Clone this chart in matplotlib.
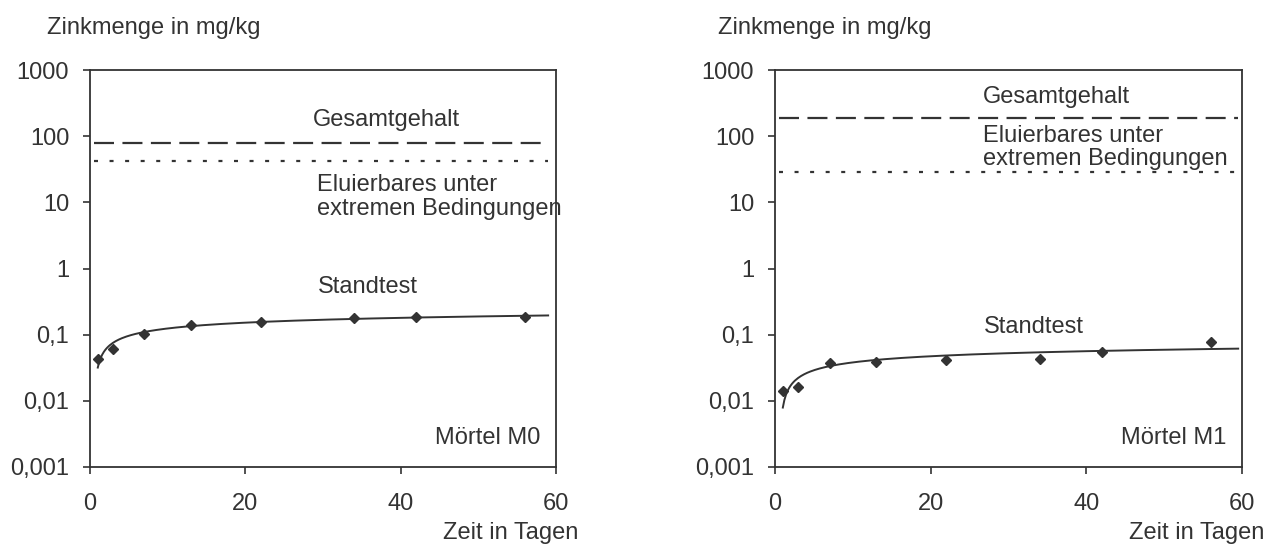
import matplotlib.pyplot as plt
import matplotlib.ticker as mticker
import numpy as np

plt.rcParams['font.family'] = ['Liberation Sans', 'DejaVu Sans']
plt.rcParams['font.size'] = 17

# Zeit in Tagen (Messzeitpunkte)
tage = [1, 3, 7, 13, 22, 34, 42, 56]

# Standtest-Messwerte in mg/kg
m0_werte = [0.043, 0.060, 0.103, 0.141, 0.158, 0.181, 0.183, 0.187]
m1_werte = [0.0143, 0.0164, 0.037, 0.039, 0.0416, 0.0436, 0.0556, 0.078]

# Gesamtgehalt und Eluierbares unter extremen Bedingungen
m0_gesamt = 80
m0_eluierbar = 42
m1_gesamt = 187
m1_eluierbar = 29

y_ticks = [0.001, 0.01, 0.1, 1, 10, 100, 1000]
y_labels = ['0,001', '0,01', '0,1', '1', '10', '100', '1000']
x_ticks = [0, 20, 40, 60]

farbe = '#333333'

fig = plt.figure(figsize=(12.66, 5.46), dpi=100)
ax1 = fig.add_axes([0.0711, 0.1447, 0.368, 0.727])
ax2 = fig.add_axes([0.6122, 0.1447, 0.3689, 0.727])


def panel(ax, werte, gesamt, eluierbar, name, x_end, y_lab_x):
    ax.set_yscale('log')
    ax.set_xlim(0, 60)
    ax.set_ylim(0.001, 1000)

    # logarithmische Trendlinie wie in Excel
    a, b = np.polyfit(np.log(tage), werte, 1)
    xs = np.linspace(1, x_end, 300)
    ax.plot(xs, a * np.log(xs) + b, color=farbe, lw=1.4)
    ax.plot(tage, werte, 'D', color=farbe, markersize=5.5)

    ax.hlines(gesamt, 0.5, x_end, colors=farbe, lw=1.6,
              linestyles=(0, (9, 3.8)))
    ax.hlines(eluierbar, 0.5, x_end, colors=farbe, lw=1.6,
              linestyles=(0, (1.8, 5.2)))

    ax.set_yticks(y_ticks)
    ax.set_yticklabels(y_labels)
    ax.yaxis.set_minor_locator(mticker.NullLocator())
    ax.set_xticks(x_ticks)
    ax.tick_params(direction='out', length=5, width=1.2, colors=farbe,
                   labelcolor=farbe, pad=10)
    ax.tick_params(axis='x', pad=14)
    for s in ax.spines.values():
        s.set_color(farbe)
        s.set_linewidth(1.3)
    ax.text(y_lab_x, 1.106, 'Zinkmenge in mg/kg', transform=ax.transAxes,
            color=farbe, ha='left', va='center')
    ax.text(1.048, -0.166, 'Zeit in Tagen', transform=ax.transAxes,
            color=farbe, ha='right', va='center')
    ax.text(0.966, 0.072, name, transform=ax.transAxes,
            color=farbe, ha='right', va='center')


panel(ax1, m0_werte, m0_gesamt, m0_eluierbar, 'Mörtel M0', 59, -0.092)
panel(ax2, m1_werte, m1_gesamt, m1_eluierbar, 'Mörtel M1', 59.5, -0.122)

ax1.text(0.478, 0.874, 'Gesamtgehalt', transform=ax1.transAxes,
         color=farbe, va='center')
ax1.text(0.487, 0.681, 'Eluierbares unter\nextremen Bedingungen',
         transform=ax1.transAxes, color=farbe, va='center', linespacing=1.1)
ax1.text(0.489, 0.453, 'Standtest', transform=ax1.transAxes,
         color=farbe, va='center')

ax2.text(0.445, 0.932, 'Gesamtgehalt', transform=ax2.transAxes,
         color=farbe, va='center')
ax2.text(0.445, 0.805, 'Eluierbares unter\nextremen Bedingungen',
         transform=ax2.transAxes, color=farbe, va='center', linespacing=1.05)
ax2.text(0.447, 0.353, 'Standtest', transform=ax2.transAxes,
         color=farbe, va='center')

plt.savefig('out.png', dpi=100)
